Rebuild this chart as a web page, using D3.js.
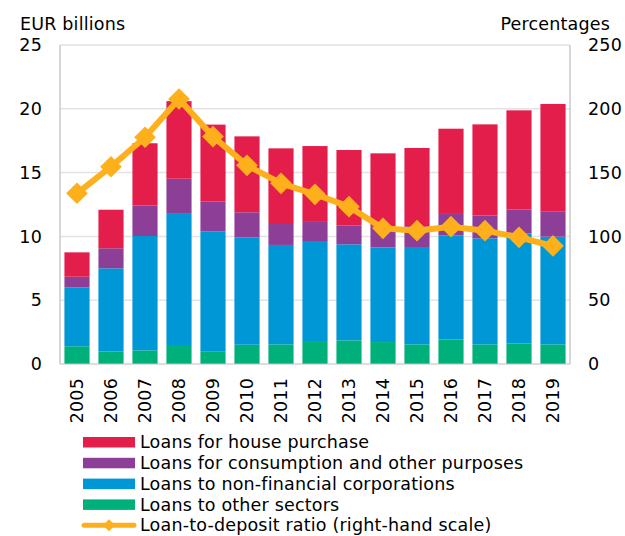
<!DOCTYPE html>
<html>
<head>
<meta charset="utf-8">
<script src="https://cdn.jsdelivr.net/npm/d3@7"></script>
<style>
  html, body { margin: 0; padding: 0; background: #fff; }
  svg { display: block; font-family: "DejaVu Sans", Verdana, sans-serif; }
  svg text { letter-spacing: 0.18px; }
</style>
</head>
<body>
<svg id="chart" width="625" height="536"></svg>
<script>
// Annual loan flows by purpose (EUR billions) and loan-to-deposit ratio (%)
const years = ["2005","2006","2007","2008","2009","2010","2011","2012","2013","2014","2015","2016","2017","2018","2019"];
const otherSectors   = [1.39, 0.97, 1.07, 1.49, 1.00, 1.51, 1.54, 1.80, 1.85, 1.72, 1.54, 1.93, 1.54, 1.62, 1.54];
const nonFinancial   = [4.62, 6.53, 8.96, 10.34, 9.40, 8.42, 7.79, 7.84, 7.53, 7.42, 7.63, 8.15, 8.31, 8.62, 8.44];
const consumption    = [0.83, 1.57, 2.40, 2.69, 2.35, 1.96, 1.64, 1.56, 1.49, 1.66, 1.63, 1.75, 1.80, 1.88, 1.99];
const housePurchase  = [1.91, 3.02, 4.87, 6.08, 6.01, 5.95, 5.93, 5.88, 5.90, 5.71, 6.13, 6.61, 7.13, 7.76, 8.41];
const loanToDeposit  = [133.8, 154.6, 177.7, 207.7, 178.2, 155.7, 141.6, 133.0, 123.3, 106.3, 104.5, 107.6, 104.5, 99.3, 92.5];

const leftTicks  = [0, 5, 10, 15, 20, 25];
const rightTicks = [0, 50, 100, 150, 200, 250];

const series = [
  { key: "other",       label: "Loans to other sectors",                    values: otherSectors,  color: "#00b07b" },
  { key: "nfc",         label: "Loans to non-financial corporations",       values: nonFinancial,  color: "#0097d6" },
  { key: "consumption", label: "Loans for consumption and other purposes",  values: consumption,   color: "#8d3f97" },
  { key: "house",       label: "Loans for house purchase",                  values: housePurchase, color: "#e31e4a" }
];
const lineColor = "#fdb01c";
const fontSize = 17.5;

const svg = d3.select("#chart");
const margin = { top: 45, left: 60, right: 55, bottom: 172 };
const W = 625, H = 536;
const innerW = W - margin.left - margin.right;
const innerH = H - margin.top - margin.bottom;

const x = d3.scaleBand().domain(years).range([margin.left, margin.left + innerW]).paddingInner(0.26).paddingOuter(0.13);
const yL = d3.scaleLinear().domain([0, 25]).range([margin.top + innerH, margin.top]);
const yR = d3.scaleLinear().domain([0, 250]).range([margin.top + innerH, margin.top]);

// gridlines
svg.append("g")
  .selectAll("line").data(leftTicks.filter(d => d > 0)).join("line")
  .attr("x1", margin.left).attr("x2", margin.left + innerW)
  .attr("y1", d => yL(d)).attr("y2", d => yL(d))
  .attr("stroke", "#e3e3e3").attr("stroke-width", 1.5);

// stacked bars
const table = years.map((y, i) => {
  const row = { year: y };
  series.forEach(s => row[s.key] = s.values[i]);
  return row;
});
const stacked = d3.stack().keys(series.map(s => s.key))(table);

svg.append("g").selectAll("g").data(stacked).join("g")
  .attr("fill", (d, i) => series[i].color)
  .selectAll("rect").data(d => d).join("rect")
  .attr("x", d => x(d.data.year))
  .attr("width", x.bandwidth())
  .attr("y", d => yL(d[1]))
  .attr("height", d => yL(d[0]) - yL(d[1]));

// frame: left, bottom, right
const frame = svg.append("g").attr("stroke", "#bdbdbd").attr("stroke-width", 1.2);
frame.append("line").attr("x1", margin.left).attr("x2", margin.left).attr("y1", margin.top).attr("y2", margin.top + innerH);
frame.append("line").attr("x1", margin.left + innerW).attr("x2", margin.left + innerW).attr("y1", margin.top).attr("y2", margin.top + innerH);
frame.append("line").attr("x1", margin.left).attr("x2", margin.left + innerW).attr("y1", margin.top + innerH).attr("y2", margin.top + innerH);

// left axis
const axL = svg.append("g")
  .attr("transform", `translate(${margin.left},0)`)
  .call(d3.axisLeft(yL).tickValues(leftTicks).tickSize(0).tickPadding(18));
axL.select(".domain").remove();
axL.selectAll("text").attr("font-size", fontSize).attr("fill", "#000").attr("font-family", "DejaVu Sans, Verdana, sans-serif");

// right axis
const axR = svg.append("g")
  .attr("transform", `translate(${margin.left + innerW},0)`)
  .call(d3.axisRight(yR).tickValues(rightTicks).tickSize(0).tickPadding(18));
axR.select(".domain").remove();
axR.selectAll("text").attr("font-size", fontSize).attr("fill", "#000").attr("font-family", "DejaVu Sans, Verdana, sans-serif");

// year labels, rotated
const axB = svg.append("g")
  .attr("transform", `translate(0,${margin.top + innerH})`)
  .call(d3.axisBottom(x).tickSize(0).tickPadding(0));
axB.select(".domain").remove();
axB.selectAll("text")
  .attr("font-size", fontSize).attr("fill", "#000").attr("font-family", "DejaVu Sans, Verdana, sans-serif")
  .attr("transform", "rotate(-90)")
  .attr("text-anchor", "end")
  .attr("x", -14).attr("y", 0).attr("dy", "0.35em");

// axis titles
svg.append("text").attr("x", 20).attr("y", 30).attr("font-size", fontSize).text("EUR billions");
svg.append("text").attr("x", 610).attr("y", 30).attr("font-size", fontSize).attr("text-anchor", "end").text("Percentages");

// loan-to-deposit line
const line = d3.line().x((d, i) => x(years[i]) + x.bandwidth() / 2).y(d => yR(d));
svg.append("path").datum(loanToDeposit)
  .attr("d", line).attr("fill", "none")
  .attr("stroke", lineColor).attr("stroke-width", 6).attr("stroke-linejoin", "round");

const diamond = d3.symbol().type(d3.symbolDiamond2).size(300);
svg.append("g").selectAll("path").data(loanToDeposit).join("path")
  .attr("transform", (d, i) => `translate(${x(years[i]) + x.bandwidth() / 2},${yR(d)})`)
  .attr("d", diamond).attr("fill", lineColor);

// legend
const legendItems = [series[3], series[2], series[1], series[0]];
const lg = svg.append("g").attr("transform", "translate(83,442)");
const rowH = 20.8;
legendItems.forEach((s, i) => {
  const g = lg.append("g").attr("transform", `translate(0,${i * rowH})`);
  g.append("rect").attr("x", 0).attr("y", -5).attr("width", 52).attr("height", 10.5).attr("fill", s.color);
  g.append("text").attr("x", 57).attr("y", 0).attr("dy", "0.35em").attr("font-size", fontSize).text(s.label);
});
{
  const g = lg.append("g").attr("transform", `translate(0,${4 * rowH})`);
  g.append("line").attr("x1", 1).attr("x2", 51).attr("y1", 0).attr("y2", 0)
    .attr("stroke", lineColor).attr("stroke-width", 5).attr("stroke-linecap", "round");
  g.append("path").attr("transform", "translate(26,0)")
    .attr("d", d3.symbol().type(d3.symbolDiamond2).size(90)).attr("fill", lineColor);
  g.append("text").attr("x", 57).attr("y", 0).attr("dy", "0.35em").attr("font-size", fontSize).text("Loan-to-deposit ratio (right-hand scale)");
}
</script>
</body>
</html>
